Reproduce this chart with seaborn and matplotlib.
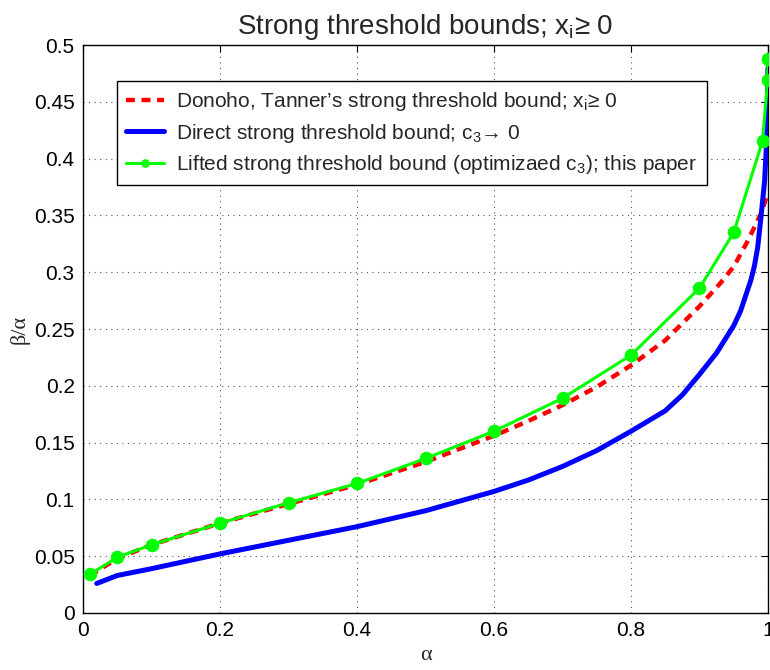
import numpy as np
import pandas as pd
import matplotlib
matplotlib.use("Agg")
import matplotlib.pyplot as plt
import seaborn as sns

# Data
alpha_dt = [0.01, 0.05, 0.1, 0.2, 0.3, 0.4, 0.5, 0.6, 0.65, 0.7, 0.75, 0.8, 0.85, 0.9, 0.93, 0.95, 0.97, 0.99, 1.0]
beta_dt = [0.033, 0.048, 0.060, 0.079, 0.096, 0.113, 0.133, 0.156, 0.169, 0.183, 0.199, 0.218, 0.240, 0.270, 0.290, 0.305, 0.327, 0.352, 0.370]

alpha_direct = [0.02, 0.05, 0.1, 0.2, 0.3, 0.4, 0.5, 0.6, 0.65, 0.7, 0.75, 0.8, 0.85, 0.875, 0.9, 0.925, 0.95,
                0.96, 0.975, 0.98, 0.985, 0.99, 0.995, 0.998, 1.0]
beta_direct = [0.026, 0.033, 0.039, 0.052, 0.064, 0.076, 0.090, 0.107, 0.117, 0.129, 0.143, 0.160, 0.178, 0.192,
               0.210, 0.229, 0.253, 0.266, 0.293, 0.305, 0.322, 0.350, 0.380, 0.415, 0.480]

alpha_lifted = [0.01, 0.05, 0.1, 0.2, 0.3, 0.4, 0.5, 0.6, 0.7, 0.8, 0.9, 0.95, 0.992, 0.9995, 1.0]
beta_lifted = [0.034, 0.049, 0.060, 0.079, 0.097, 0.114, 0.136, 0.160, 0.189, 0.227, 0.286, 0.335, 0.4155, 0.469, 0.488]

xticks = [0, 0.2, 0.4, 0.6, 0.8, 1]
yticks = [0, 0.05, 0.1, 0.15, 0.2, 0.25, 0.3, 0.35, 0.4, 0.45, 0.5]

labels = [
    "Donoho, Tanner\u2019s strong threshold bound; x$_{\\rm i}$\u2265 0",
    "Direct strong threshold bound; c$_{\\rm 3}$\u2192 0",
    "Lifted strong threshold bound (optimizaed c$_{\\rm 3}$); this paper",
]

sns.set_style("white")
plt.rcParams['font.family'] = ['Liberation Sans', 'DejaVu Sans']
plt.rcParams['mathtext.fontset'] = 'custom'
plt.rcParams['mathtext.rm'] = 'Liberation Sans'
plt.rcParams['mathtext.it'] = 'Liberation Sans'

df_dt = pd.DataFrame({"alpha": alpha_dt, "beta": beta_dt})
df_direct = pd.DataFrame({"alpha": alpha_direct, "beta": beta_direct})
df_lifted = pd.DataFrame({"alpha": alpha_lifted, "beta": beta_lifted})

fig = plt.figure(figsize=(7.7, 6.7), dpi=100)
ax = fig.add_axes([0.1078, 0.0851, 0.8896, 0.8477])

sns.lineplot(data=df_dt, x="alpha", y="beta", ax=ax, color="#ff0000", lw=3.2,
             linestyle=(0, (2.0, 1.5)), label=labels[0], sort=False, zorder=3)
sns.lineplot(data=df_direct, x="alpha", y="beta", ax=ax, color="#0000ff", lw=3.6,
             label=labels[1], sort=False, zorder=4)
sns.lineplot(data=df_lifted, x="alpha", y="beta", ax=ax, color="#00ff00", lw=2.2,
             marker="o", markersize=9, markeredgecolor="#00ff00", label=labels[2],
             sort=False, zorder=5)

ax.set_xlim(0, 1)
ax.set_ylim(0, 0.5)
ax.set_xticks(xticks)
ax.set_yticks(yticks)
ax.set_xticklabels(["%g" % t for t in xticks])
ax.set_yticklabels(["%g" % t for t in yticks])
ax.tick_params(direction="in", length=5, width=0.8, top=True, right=True,
               labelsize=15, colors="black", pad=6)
ax.grid(True, linestyle=(0, (1, 4)), color="#555555", linewidth=0.8)
for s in ax.spines.values():
    s.set_color("black")
    s.set_linewidth(1.0)

ax.set_xlabel("\u03b1", family=["Liberation Serif", "DejaVu Serif"], fontsize=16, labelpad=4)
ax.set_ylabel("\u03b2/\u03b1", family=["Liberation Serif", "DejaVu Serif"], fontsize=16, labelpad=3)
ax.set_title("Strong threshold bounds; x$_{\\rm i}$\u2265 0", fontsize=20, pad=8)

leg = ax.legend(loc="upper left", bbox_to_anchor=(0.0496, 0.9366), fontsize=15,
                frameon=True, fancybox=False, edgecolor="black", framealpha=1,
                handlelength=1.8, handletextpad=0.6, borderpad=0.45, labelspacing=0.4,
                markerscale=0.6, borderaxespad=0)
leg.get_frame().set_linewidth(1.0)

fig.savefig("out.png", dpi=100)
